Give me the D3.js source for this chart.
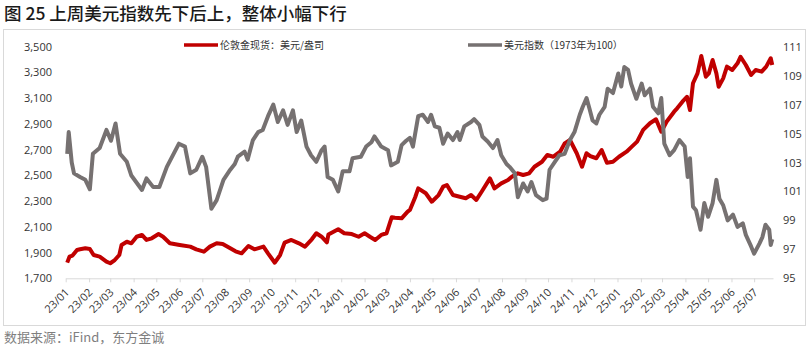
<!DOCTYPE html>
<html><head><meta charset="utf-8">
<script src="https://cdn.jsdelivr.net/npm/d3@7"></script>
<style>
html,body{margin:0;padding:0;background:#fff;}
svg{display:block;font-family:"Noto Sans CJK SC","Noto Sans",sans-serif;}
</style></head>
<body><svg id="c" width="809" height="348"></svg>
<script>
const title = "图 25 上周美元指数先下后上，整体小幅下行";
const source = "数据来源：iFind，东方金诚";
const seriesNames = ["伦敦金现货：美元/盎司", "美元指数（1973年为100）"];
const leftTicks = [1700,1900,2100,2300,2500,2700,2900,3100,3300,3500];
const rightTicks = [95,97,99,101,103,105,107,109,111];

const goldDates = ["2023-01-03","2023-01-06","2023-01-10","2023-01-16","2023-01-20","2023-01-27","2023-02-02","2023-02-07","2023-02-15","2023-02-24","2023-03-01","2023-03-07","2023-03-13","2023-03-16","2023-03-23","2023-03-29","2023-04-05","2023-04-12","2023-04-18","2023-04-25","2023-05-04","2023-05-10","2023-05-19","2023-06-01","2023-06-15","2023-06-23","2023-07-03","2023-07-11","2023-07-20","2023-07-28","2023-08-07","2023-08-14","2023-08-22","2023-08-31","2023-09-08","2023-09-20","2023-09-26","2023-10-05","2023-10-12","2023-10-18","2023-10-27","2023-11-06","2023-11-14","2023-11-23","2023-11-29","2023-12-06","2023-12-13","2023-12-15","2023-12-28","2024-01-05","2024-01-15","2024-01-24","2024-02-01","2024-02-08","2024-02-15","2024-02-23","2024-03-01","2024-03-06","2024-03-08","2024-03-12","2024-03-21","2024-03-29","2024-04-01","2024-04-08","2024-04-12","2024-04-22","2024-04-30","2024-05-09","2024-05-15","2024-05-20","2024-05-28","2024-06-06","2024-06-14","2024-06-21","2024-06-28","2024-07-05","2024-07-16","2024-07-22","2024-07-31","2024-08-09","2024-08-14","2024-08-22","2024-08-29","2024-09-06","2024-09-13","2024-09-23","2024-09-30","2024-10-08","2024-10-17","2024-10-23","2024-10-30","2024-11-08","2024-11-15","2024-11-21","2024-11-26","2024-12-04","2024-12-11","2024-12-18","2024-12-26","2025-01-03","2025-01-13","2025-01-20","2025-01-27","2025-02-04","2025-02-13","2025-02-21","2025-02-28","2025-03-07","2025-03-17","2025-03-21","2025-03-28","2025-04-03","2025-04-07","2025-04-11","2025-04-17","2025-04-22","2025-04-28","2025-05-02","2025-05-07","2025-05-12","2025-05-15","2025-05-21","2025-05-26","2025-06-02","2025-06-09","2025-06-13","2025-06-20","2025-06-27","2025-07-03","2025-07-11","2025-07-17","2025-07-23","2025-07-25"];
const goldValues = [1822,1868,1877,1920,1926,1933,1928,1881,1868,1829,1817,1842,1881,1959,1984,1972,2023,2037,1998,2011,2044,2023,1972,1959,1946,1925,1907,1946,1972,1967,1933,1910,1894,1951,1925,1946,1894,1821,1881,1977,1998,1972,1946,2003,2050,2023,1980,2040,2081,2050,2044,2023,2050,2023,1998,2037,2050,2140,2175,2170,2166,2218,2231,2330,2399,2361,2295,2347,2412,2425,2347,2334,2322,2347,2309,2373,2477,2399,2438,2464,2490,2516,2503,2516,2567,2606,2658,2645,2684,2749,2775,2672,2567,2672,2650,2633,2697,2598,2606,2645,2684,2723,2762,2853,2905,2936,2839,2917,2995,3021,3073,3111,3008,3216,3293,3428,3267,3293,3397,3293,3189,3254,3345,3319,3371,3422,3358,3280,3319,3306,3345,3410,3358];

const dxyDates = ["2023-01-03","2023-01-05","2023-01-09","2023-01-12","2023-01-20","2023-01-27","2023-02-02","2023-02-06","2023-02-15","2023-02-24","2023-03-02","2023-03-08","2023-03-14","2023-03-23","2023-03-29","2023-04-05","2023-04-12","2023-04-18","2023-04-27","2023-05-05","2023-05-15","2023-05-31","2023-06-08","2023-06-15","2023-06-23","2023-07-01","2023-07-06","2023-07-13","2023-07-20","2023-07-29","2023-08-07","2023-08-13","2023-08-17","2023-08-26","2023-08-30","2023-09-06","2023-09-13","2023-09-19","2023-09-26","2023-10-03","2023-10-09","2023-10-16","2023-10-22","2023-10-29","2023-11-03","2023-11-09","2023-11-16","2023-11-22","2023-11-29","2023-12-06","2023-12-10","2023-12-14","2023-12-21","2023-12-28","2024-01-03","2024-01-12","2024-01-16","2024-01-27","2024-02-03","2024-02-10","2024-02-14","2024-02-23","2024-03-03","2024-03-07","2024-03-16","2024-03-21","2024-03-27","2024-04-01","2024-04-05","2024-04-12","2024-04-18","2024-04-25","2024-04-29","2024-05-04","2024-05-10","2024-05-15","2024-05-21","2024-05-28","2024-06-03","2024-06-06","2024-06-12","2024-06-21","2024-06-25","2024-07-02","2024-07-06","2024-07-13","2024-07-20","2024-07-26","2024-07-31","2024-08-07","2024-08-11","2024-08-18","2024-08-22","2024-08-29","2024-09-04","2024-09-09","2024-09-15","2024-09-24","2024-09-29","2024-10-03","2024-10-10","2024-10-16","2024-10-23","2024-10-30","2024-11-05","2024-11-12","2024-11-16","2024-11-21","2024-11-25","2024-11-29","2024-12-04","2024-12-08","2024-12-15","2024-12-19","2024-12-26","2025-01-02","2025-01-06","2025-01-10","2025-01-15","2025-01-19","2025-01-26","2025-02-02","2025-02-06","2025-02-13","2025-02-17","2025-02-24","2025-02-28","2025-03-04","2025-03-11","2025-03-17","2025-03-24","2025-03-31","2025-04-04","2025-04-07","2025-04-11","2025-04-15","2025-04-21","2025-04-26","2025-05-01","2025-05-07","2025-05-12","2025-05-16","2025-05-21","2025-05-27","2025-06-03","2025-06-09","2025-06-16","2025-06-20","2025-06-27","2025-07-01","2025-07-08","2025-07-12","2025-07-16","2025-07-21","2025-07-23","2025-07-25"];
const dxyValues = [103.6,105.1,103.0,102.25,102.0,101.8,101.15,103.6,104.0,105.25,104.5,105.7,103.6,103.05,102.1,101.6,101.1,101.9,101.3,101.3,102.7,104.3,104.1,102.25,102.5,103.4,102.7,99.8,100.4,101.8,102.5,102.9,103.4,103.75,103.2,104.55,105.1,105.25,106.2,107.0,105.8,106.6,105.6,106.6,105.1,105.9,104.1,103.5,103.05,103.85,104.1,102.0,101.8,101.0,102.4,102.4,103.3,103.4,104.1,104.4,104.8,104.1,103.85,102.8,103.05,104.2,104.5,104.7,104.1,106.2,106.3,105.8,106.3,105.5,105.4,104.3,105.0,104.55,105.1,104.55,105.5,105.8,106.0,105.6,104.8,104.45,104.0,104.55,103.5,102.9,102.7,102.25,100.6,101.55,101.0,101.65,100.75,100.4,100.5,102.5,103.05,103.5,103.6,104.55,105.1,106.3,106.85,107.45,106.7,105.9,105.7,106.3,106.85,108.1,107.8,109.15,108.25,109.6,109.4,108.45,107.4,108.45,107.65,108.1,106.85,106.4,107.45,104.3,103.5,103.85,104.55,104.1,102.0,103.3,99.95,99.7,98.35,100.2,99.25,100.2,101.8,100.5,100.05,99.0,99.4,98.55,98.8,98.0,97.2,96.7,97.4,97.85,98.7,98.35,97.3,97.7];

const parse = d3.utcParse("%Y-%m-%d");
const gold = goldDates.map((d,i)=>({date:parse(d), v:goldValues[i]}));
const dxy = dxyDates.map((d,i)=>({date:parse(d), v:dxyValues[i]}));

const svg = d3.select("#c");
const x = d3.scaleUtc().domain([parse("2023-01-01"), parse("2025-07-26")]).range([65.7, 773]);
const yL = d3.scaleLinear().domain([1700,3500]).range([278.3, 46.7]);
const yR = d3.scaleLinear().domain([95,111]).range([278.3, 46.7]);

// title
svg.append("text").attr("x",4).attr("y",20).attr("font-size",17.5).attr("font-weight",500)
  .attr("fill","#1a1a1a").text(title);
// frame
svg.append("rect").attr("x",3.5).attr("y",29.5).attr("width",802).attr("height",296)
  .attr("fill","none").attr("stroke","#d9d9d9");
// source
svg.append("text").attr("x",4).attr("y",342).attr("font-size",13).attr("fill","#7f7f7f").text(source);

// left axis
const gl = svg.append("g").attr("transform","translate(56,0)")
  .call(d3.axisLeft(yL).tickValues(leftTicks).tickFormat(d3.format(",")).tickSize(0).tickPadding(4));
gl.select(".domain").remove();
gl.selectAll("text").attr("font-size",11).attr("fill","#333").attr("font-family","'Open Sans','Noto Sans',sans-serif");

// right axis
const gr = svg.append("g").attr("transform","translate(779,0)")
  .call(d3.axisRight(yR).tickValues(rightTicks).tickSize(0).tickPadding(4));
gr.select(".domain").remove();
gr.selectAll("text").attr("font-size",11).attr("fill","#333").attr("font-family","'Open Sans','Noto Sans',sans-serif");

// bottom axis
const gx = svg.append("g").attr("transform","translate(0,278.3)")
  .call(d3.axisBottom(x).ticks(d3.utcMonth.every(1)).tickFormat(d3.utcFormat("%y/%m")).tickSizeInner(4).tickSizeOuter(0));
gx.select(".domain").attr("stroke","#d9d9d9");
gx.selectAll(".tick line").attr("stroke","#d9d9d9");
gx.selectAll(".tick text").attr("font-size",11).attr("fill","#333")
  .attr("font-family","'Open Sans','Noto Sans',sans-serif")
  .attr("text-anchor","end").attr("x",0).attr("y",0).attr("dy","0.35em")
  .attr("transform","translate(1,12) rotate(-45)");

// lines
const lineL = d3.line().x(d=>x(d.date)).y(d=>yL(d.v));
const lineR = d3.line().x(d=>x(d.date)).y(d=>yR(d.v));
svg.append("path").datum(gold).attr("d",lineL).attr("fill","none").attr("stroke","#C00000")
  .attr("stroke-width",4).attr("stroke-linejoin","round");
svg.append("path").datum(dxy).attr("d",lineR).attr("fill","none").attr("stroke","#767171")
  .attr("stroke-width",4).attr("stroke-linejoin","round");

// legend
const leg = [{x1:184,x2:218,c:"#C00000",t:seriesNames[0]},{x1:468,x2:502,c:"#767171",t:seriesNames[1]}];
leg.forEach(l=>{
  svg.append("line").attr("x1",l.x1).attr("x2",l.x2).attr("y1",45).attr("y2",45)
    .attr("stroke",l.c).attr("stroke-width",3.5);
  svg.append("text").attr("x",l.x2+2).attr("y",45).attr("dy","0.35em").attr("font-size",10)
    .attr("fill","#333").text(l.t);
});
</script></body></html>
